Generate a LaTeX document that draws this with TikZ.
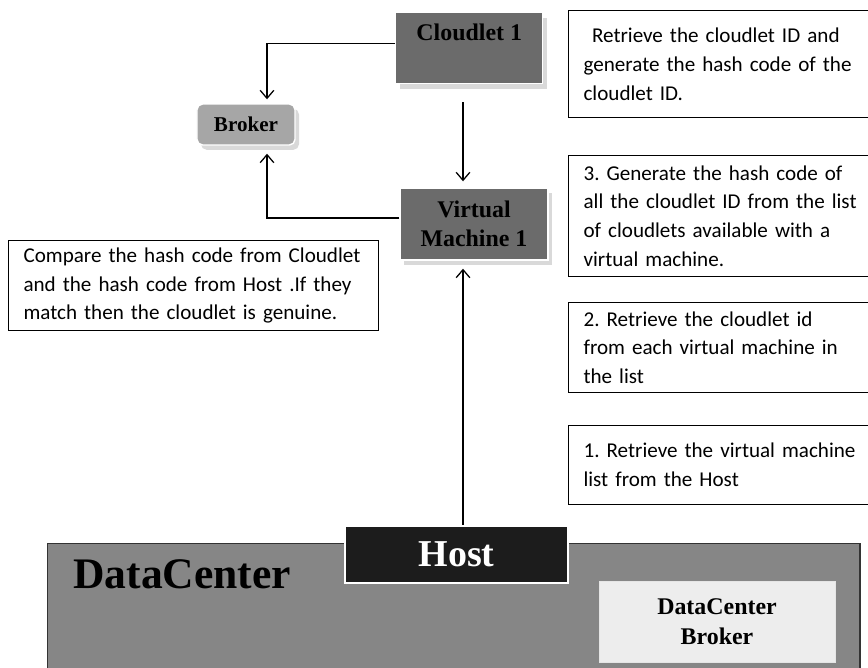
\documentclass[tikz,border=0pt]{standalone}
\usepackage{fontspec}
\setmainfont{Liberation Serif}
\newfontfamily\notefont{Carlito}[WordSpace=0.6]
\usetikzlibrary{arrows.meta,shadows}
\frenchspacing

\definecolor{vmgray}{HTML}{6B6B6B}
\definecolor{brokergray}{HTML}{A6A6A6}
\definecolor{dcgray}{HTML}{868686}
\definecolor{dcbrokergray}{HTML}{EDEDED}
\definecolor{hostblack}{HTML}{1C1C1C}

\tikzset{
  block/.style={fill=vmgray, draw=white, line width=1pt,
    font=\fontsize{17}{21}\selectfont\bfseries,
    drop shadow={shadow xshift=0.1cm, shadow yshift=-0.12cm, fill=black!15, opacity=1}},
  note/.style={draw=black, line width=0.8pt, fill=white, anchor=north west,
    font=\notefont\fontsize{15}{20.5}\selectfont, align=left, inner xsep=0.375cm},
  flow/.style={line width=0.9pt, -{Straight Barb[length=2mm,width=3.4mm]}},
}

\begin{document}
\begin{tikzpicture}[x=0.025cm, y=-0.025cm]
  \path[use as bounding box] (0,0) rectangle (868,667);
  \clip (0,0) rectangle (868,667);

  % data centre with its host and broker
  \node[fill=dcgray, draw=black!80, line width=1pt, anchor=north west,
        minimum width=20.3cm, minimum height=3.5cm] (dc) at (47,543) {};
  \node[font=\fontsize{31}{31}\selectfont\bfseries, anchor=base west, inner sep=0pt]
        (dctitle) at (73,588) {DataCenter};
  \node[fill=hostblack, draw=white, line width=2pt, text=white,
        font=\fontsize{27}{27}\selectfont\bfseries,
        minimum width=5.575cm, minimum height=1.425cm] (host) at (456.5,554.5) {Host};
  \node[fill=dcbrokergray, draw=black!10, align=center,
        font=\fontsize{17}{21}\selectfont\bfseries,
        minimum width=5.9cm, minimum height=2.025cm] (dcbroker) at (717,621.5) {DataCenter\\Broker};

  % cloudlet, vm and broker
  \node[block, anchor=north west, minimum width=3.675cm, inner ysep=0pt,
        text height=0.7cm, text depth=1.075cm] (cloudlet) at (395,12) {Cloudlet 1};
  \node[block, align=center, minimum width=3.7cm, minimum height=1.8cm] (vm) at (474,224) {Virtual\\Machine 1};
  \node[block, fill=brokergray, rounded corners=4pt, font=\fontsize{15}{18}\selectfont\bfseries,
        minimum width=2.45cm, minimum height=1.025cm] (broker) at (246,124.5) {Broker};

  % step notes
  \node[note, text width=8cm, minimum height=2.675cm] (idhash) at (568,10)
    {\hspace{0.4em}Retrieve the cloudlet ID and\\generate the hash code of the\\cloudlet ID.};
  \node[note, text width=8cm, minimum height=3.025cm] (hashlist) at (568,155)
    {3. Generate the hash code of\\all the cloudlet ID from the list\\of cloudlets available with a\\virtual machine.};
  \node[note, text width=8cm, minimum height=2.25cm] (idlist) at (568,302)
    {2. Retrieve the cloudlet id\\from each virtual machine in\\the list};
  \node[note, text width=8cm, minimum height=1.975cm] (vmlist) at (568,425)
    {1. Retrieve the virtual machine\\list from the Host};
  \node[note, text width=8.5cm, minimum height=2.25cm] (compare) at (8,240)
    {Compare the hash code from Cloudlet\\and the hash code from Host .If they\\match then the cloudlet is genuine.};

  % connectors
  \coordinate (spine) at (463,0);
  \draw[flow, shorten >=0.1cm] ([yshift=0.11cm]cloudlet.west) -| ([xshift=0.525cm]broker.north);
  \draw[flow, shorten >=0.2cm] ([yshift=0.15cm]vm.west) -| ([xshift=0.525cm]broker.south);
  \draw[flow, shorten <=0.45cm, shorten >=0.15cm] (cloudlet.south -| spine) -- (vm.north -| spine);
  \draw[flow, shorten >=0.2cm] (host.north -| spine) -- (vm.south -| spine);
\end{tikzpicture}
\end{document}
